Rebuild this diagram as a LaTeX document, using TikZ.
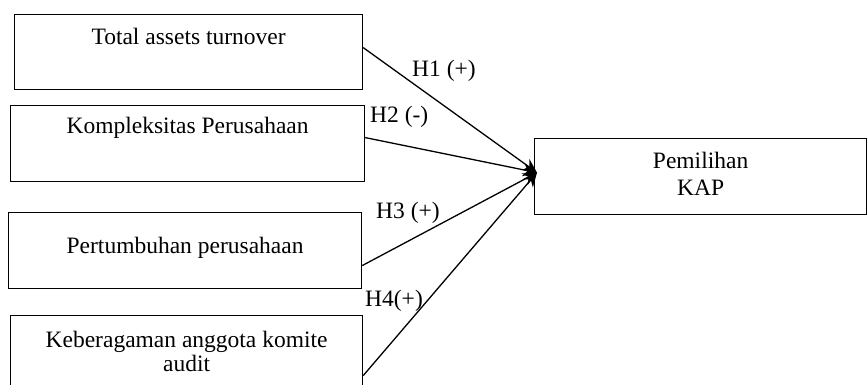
\documentclass[tikz,border=0pt]{standalone}
\usepackage{fontspec}
\setmainfont{Liberation Serif}
\usetikzlibrary{arrows.meta}
\begin{document}
\begin{tikzpicture}[x=1pt,y=-1pt,
  box/.style={draw, line width=1.2pt, inner xsep=0pt, inner ysep=0pt, align=center, anchor=north west,
    font=\fontsize{23.5}{24}\selectfont},
  lbl/.style={font=\fontsize{23.5}{24}\selectfont, inner sep=0pt, anchor=base west},
  conn/.style={line width=1.3pt, -{Stealth[length=14pt,width=13pt]}}]
\useasboundingbox (0,0) rectangle (867,385);
\clip (0,0) rectangle (867,385);
\node[box, minimum width=348pt, text height=30pt, text depth=45pt] (b1) at (14,14) {Total assets turnover};
\node[box, minimum width=354pt, text height=28pt, text depth=48pt] (b2) at (10,105) {Kompleksitas Perusahaan};
\node[box, minimum width=353pt, text height=41pt, text depth=35pt] (b3) at (8,212) {Pertumbuhan perusahaan};
\node[box, minimum width=352pt, text height=56pt, text depth=34pt] (b4) at (10,315) {Keberagaman anggota komite\\audit};
\node[box, minimum width=332pt, text height=57pt, text depth=19pt] (kap) at (534,138) {Pemilihan\\[3pt]KAP};
\coordinate (t) at ([xshift=3pt,yshift=4pt]kap.west);
\draw[conn] ([yshift=4.5pt]b1.east) -- (t);
\draw[conn] ([yshift=6pt]b2.east) -- (t);
\draw[conn] ([yshift=-15pt]b3.east) -- (t);
\draw[conn] ([yshift=-15pt]b4.east) -- (t);
\node[lbl] (h1) at (412,77) {H1 (+)};
\node[lbl] (h2) at (370,123) {H2 (-)};
\node[lbl] (h3) at (376,218) {H3 (+)};
\node[lbl] (h4) at (365,306) {H4(+)};
\end{tikzpicture}
\end{document}
